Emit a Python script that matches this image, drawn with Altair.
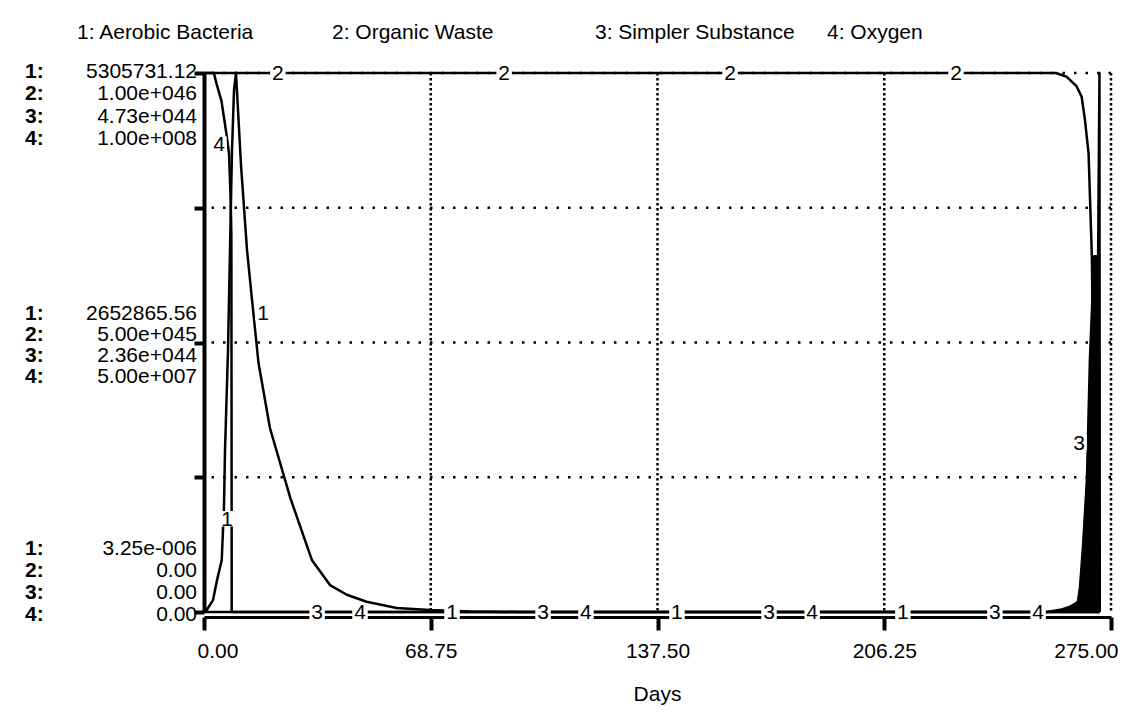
import altair as alt
import pandas as pd

FONT = "Liberation Sans"

# ---------------- data ----------------
SERIES_NAMES = ["Aerobic Bacteria", "Organic Waste", "Simpler Substance", "Oxygen"]

# 1: Aerobic Bacteria
bact_days = [0, 0.82, 2.73, 3.94, 5.37, 6.06, 6.37, 7.28, 7.88, 8.49, 9.10, 9.70,
             11.22, 13.04, 14.46, 16.53, 20.01, 26.14, 32.75, 38.2, 43.3, 49.3,
             58.4, 68.5, 80.7, 95.8, 271.5]
bact_vals = [3.25e-6, 19600, 116700, 313000, 509000, 1035000, 1592000, 2579000,
             3565000, 4547000, 5136000, 5305731.12, 4398000, 3565000, 3104000,
             2451000, 1809000, 1125000, 509000, 265000, 170000, 101000, 39300,
             19600, 5300, 12, 0.00001]

# 2: Organic Waste
waste_days = [0, 258.3, 261.6, 264.6, 266.1, 267.1, 268.2, 268.7, 269.2, 269.6,
              270.0, 270.4, 271.5]
waste_vals = [1.0e46, 1.0e46, 9.93e45, 9.75e45, 9.56e45, 9.13e45, 8.51e45,
              7.55e45, 6.59e45, 4.50e45, 2.00e45, 0.0, 0.0]

# 3: Simpler Substance
simp_days = [0, 255.6, 259.6, 262.6, 264.6, 265.0, 265.6, 266.5, 267.7, 268.6,
             269.9, 271.1, 271.5, 271.6]
simp_vals = [0, 0, 1.9e42, 4.7e42, 8.0e42, 9.5e42, 2.18e43, 5.68e43, 1.16e44,
             2.21e44, 3.12e44, 3.12e44, 4.7256e44, 0]

# 4: Oxygen
oxy_days = [0, 3.0, 3.8, 5.3, 6.8, 7.6, 8.1, 8.3, 8.35, 8.4, 271.5]
oxy_vals = [1.0e8, 1.0e8, 9.8e7, 9.48e7, 8.87e7, 8.5e7, 7.6e7, 7.0e7, 4.0e7, 0, 0]

X_TICKS = [0, 68.75, 137.5, 206.25, 275]
FRAC_TICKS = [0, 0.25, 0.5, 0.75, 1.0]
X_TITLE = "Days"

# curve labels along the lines: (label, day, fraction of panel height)
CURVE_LABELS = [
    ("1", 6.97, 0.173), ("1", 17.9, 0.555), ("1", 75.2, 0), ("1", 143.4, 0), ("1", 211.9, 0),
    ("2", 22.4, 1), ("2", 91.0, 1), ("2", 159.5, 1), ("2", 228.0, 1),
    ("3", 34.3, 0), ("3", 102.8, 0), ("3", 171.3, 0), ("3", 239.8, 0), ("3", 265.3, 0.314),
    ("4", 4.55, 0.868), ("4", 47.3, 0), ("4", 115.8, 0), ("4", 184.4, 0), ("4", 252.9, 0),
]

# ---------------- layout ----------------
W, H = 907, 539
PAD = {"left": 196, "top": 65, "right": 8, "bottom": 93}
FS = 21

series = [(bact_days, bact_vals), (waste_days, waste_vals),
          (simp_days, simp_vals), (oxy_days, oxy_vals)]
ranges = [(min(v), max(v)) for _, v in series]


def stella_fmt(v):
    if v == 0:
        return "0.00"
    if abs(v) < 0.01 or abs(v) >= 1e7:
        m, e = f"{v:.2e}".split("e")
        return f"{m}e{e[0]}{e[1:].zfill(3)}"
    return f"{v:.2f}"


xs = alt.Scale(domain=[X_TICKS[0], X_TICKS[-1]], nice=False, zero=False)
fs = alt.Scale(domain=[0, 1], nice=False, zero=False)
X_AXIS = alt.Axis(
    values=X_TICKS, format=".2f", labelFlush=True, labelFlushOffset=7,
    labelFontSize=FS, labelFont=FONT, labelColor="black", labelPadding=10,
    tickSize=13, tickWidth=4, tickColor="black", domainColor="black",
    domainWidth=3, offset=5, grid=False, title=None)


def xenc():
    return alt.X("day:Q", scale=xs, axis=X_AXIS)


def line_layer(days, vals, lo, hi, width=2.5):
    df = pd.DataFrame({"day": days, "v": vals, "i": range(len(days))})
    return alt.Chart(df).mark_line(color="black", strokeWidth=width, strokeJoin="round").encode(
        x=xenc(),
        y=alt.Y("v:Q", scale=alt.Scale(domain=[lo, hi], nice=False, zero=False), axis=None),
        order=alt.Order("i:Q"),
    )


layers = []

# vertical dotted grid + x axis
vg = pd.DataFrame({"day": X_TICKS[1:]})
layers.append(
    alt.Chart(vg).mark_rule(color="black", strokeWidth=2.5, strokeDash=[2.5, 2.5]).encode(x=xenc())
)

# horizontal dotted grid + left axis
hg = pd.DataFrame({"f": FRAC_TICKS[1:]})
layers.append(
    alt.Chart(hg).mark_rule(color="black", strokeWidth=2.5, strokeDash=[2.5, 9]).encode(
        y=alt.Y("f:Q", scale=fs, axis=alt.Axis(
            values=FRAC_TICKS, labels=False, tickSize=10, tickWidth=4, tickColor="black",
            domainColor="black", domainWidth=4, grid=False, title=None))
    )
)

# filled (oscillating) part of series 3
sd = pd.DataFrame({"day": simp_days, "v": simp_vals})
sd = sd[sd["day"] >= 255]
layers.append(
    alt.Chart(sd).mark_area(color="black", opacity=1, interpolate="linear").encode(
        x=xenc(),
        y=alt.Y("v:Q", scale=alt.Scale(domain=[ranges[2][0], ranges[2][1]], nice=False, zero=False), axis=None),
    )
)

for (d, v), (lo, hi) in zip(series, ranges):
    layers.append(line_layer(d, v, lo, hi, width=2.5))

# curve labels with white boxes
lab = pd.DataFrame(CURVE_LABELS, columns=["t", "day", "f"])
layers.append(
    alt.Chart(lab).mark_square(color="white", size=240, opacity=1, strokeWidth=0).encode(
        x=xenc(),
        y=alt.Y("f:Q", scale=fs, axis=None),
    )
)
layers.append(
    alt.Chart(lab).mark_text(font=FONT, fontSize=FS, color="black", baseline="middle", align="center", dy=1).encode(
        x=xenc(),
        y=alt.Y("f:Q", scale=fs, axis=None),
        text="t:N",
    )
)


def txt(s, x, y, align="left", weight="normal", lh=None, size=FS):
    kw = dict(font=FONT, fontSize=size, color="black", align=align, baseline="middle",
              fontWeight=weight, lineBreak="\n")
    if lh is not None:
        kw["lineHeight"] = lh
    return alt.Chart(pd.DataFrame({"t": [s]})).mark_text(**kw).encode(
        text="t:N", x=alt.value(x), y=alt.value(y))


# legend across the top
LEG_X = [-127, 128, 391, 623]
for k, (name, lx) in enumerate(zip(SERIES_NAMES, LEG_X)):
    layers.append(txt(f"{k + 1}: {name}", lx, -40))

# stacked STELLA-style value labels at top, middle, bottom (y = first row)
row_nums = "\n".join(f"{k + 1}:" for k in range(4))
top_txt = "\n".join(stella_fmt(hi) for lo, hi in ranges)
mid_txt = "\n".join(stella_fmt((lo + hi) / 2) for lo, hi in ranges)
bot_txt = "\n".join(stella_fmt(lo) for lo, hi in ranges)
for block, y0, lh in [(top_txt, -1, 22.3), (mid_txt, 241, 21), (bot_txt, 476, 22)]:
    layers.append(txt(row_nums, -179, y0, weight="bold", lh=lh))
    layers.append(txt(block, -7, y0, align="right", lh=lh))

layers.append(txt(X_TITLE, W / 2, 622, align="center"))

chart = alt.layer(*layers).resolve_scale(y="independent").properties(
    width=W, height=H,
    autosize=alt.AutoSizeParams(type="none"),
    padding=PAD,
    background="white",
).configure_view(stroke=None)

chart.save("out.html", embed_options={"renderer": "svg", "actions": False})
